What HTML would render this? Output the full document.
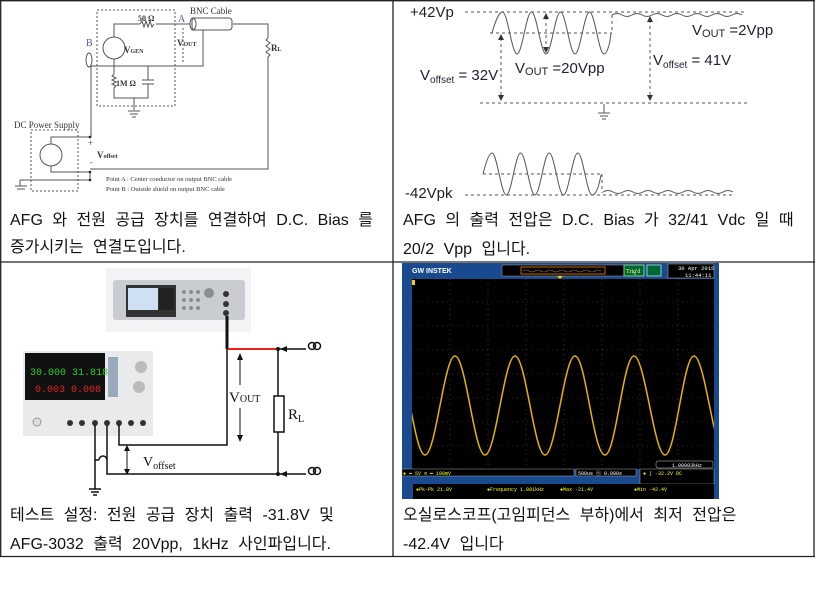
<!DOCTYPE html>
<html><head><meta charset="utf-8"><style>
html,body{margin:0;padding:0;background:#fff;width:822px;height:589px;overflow:hidden}
.cap{position:absolute;font-family:"Liberation Sans","Noto Sans CJK KR",sans-serif;font-size:16px;color:#111;white-space:nowrap;word-spacing:5px}
svg{position:absolute;left:0;top:0}
</style></head><body>
<svg width="822" height="589" viewBox="0 0 822 589" font-family="Liberation Serif, serif">
<g stroke="#222" stroke-width="1.3" fill="none">
<line x1="0" y1="0.7" x2="815" y2="0.7"/>
<line x1="0.7" y1="0" x2="0.7" y2="557"/>
<line x1="393" y1="0" x2="393" y2="557"/>
<line x1="814" y1="0" x2="814" y2="557"/>
<line x1="0" y1="262" x2="815" y2="262"/>
<line x1="0" y1="556.5" x2="815" y2="556.5"/>
</g>

<g stroke="#555" stroke-width="1" fill="none">
<rect x="97" y="10" width="78" height="96" stroke-dasharray="2,2"/>
<rect x="31" y="130" width="47" height="61" stroke-dasharray="2,2"/>
<polyline points="114,37 114,24 140,24"/>
<path d="M140,24 l2,-3 l2,6 l2,-6 l2,6 l2,-6 l2,6 l2,-3"/>
<polyline points="156,24 190,24"/>
<rect x="192" y="18" width="40" height="12" rx="3"/>
<ellipse cx="193" cy="24" rx="3" ry="6"/>
<polyline points="233,24 268,24 268,38"/>
<path d="M268,38 l-2,2 l4,3 l-4,3 l4,3 l-4,3 l4,3 l-2,2"/>
<polyline points="268,57 268,169 90,169"/>
<circle cx="114" cy="48" r="11"/>
<polyline points="114,59 114,66"/>
<polyline points="90,66 203,66 203,30"/>
<polyline points="114,66 114,74"/>
<path d="M114,74 l-2,2 l4,2 l-4,2 l4,2 l-4,2 l4,2 l-2,2"/>
<polyline points="114,88 114,98 148,98 148,84"/>
<polyline points="148,66 148,80"/>
<line x1="142" y1="80" x2="154" y2="80"/><line x1="142" y1="84" x2="154" y2="84"/>
<polyline points="134,98 134,110"/>
<line x1="128" y1="111" x2="140" y2="111"/><line x1="130" y1="114" x2="138" y2="114"/><line x1="132" y1="117" x2="136" y2="117"/>
<ellipse cx="89" cy="60" rx="3" ry="7"/>
<polyline points="91,66 91,137 51,137 51,144"/>
<circle cx="51" cy="155" r="11"/>
<polyline points="51,166 51,172 90,172"/>
<polyline points="90,172 90,180 20,180"/>
<line x1="15" y1="186" x2="27" y2="186"/><line x1="17" y1="189" x2="25" y2="189"/>
<line x1="20" y1="180" x2="20" y2="186"/>
<line x1="183" y1="28" x2="183" y2="64" stroke-dasharray="2,2"/>
</g>
<g fill="#333" font-size="8">
<text x="138" y="21" font-weight="bold">50 Ω</text>
<text x="178" y="22" fill="#55b" font-size="10">A</text>
<text x="190" y="14" font-size="9">BNC Cable</text>
<text x="86" y="46" fill="#55b" font-size="10">B</text>
<text x="124" y="53" font-weight="bold" font-size="9">V<tspan font-size="6">GEN</tspan></text>
<text x="177" y="46" font-weight="bold" font-size="9">V<tspan font-size="6">OUT</tspan></text>
<text x="271" y="51" font-weight="bold" font-size="9">R<tspan font-size="6">L</tspan></text>
<text x="116" y="86" font-weight="bold">1M Ω</text>
<text x="14" y="128" font-size="9">DC Power Supply</text>
<text x="88" y="146" font-size="9">+</text>
<text x="97" y="158" font-weight="bold" font-size="9">V<tspan font-size="6">offset</tspan></text>
<text x="90" y="165" font-size="8">-</text>
<text x="106" y="181" font-size="6.5">Point A : Center conductor on output BNC cable</text>
<text x="106" y="191" font-size="6.5">Point B : Outside shield on output BNC cable</text>
</g>
<g fill="#222"><circle cx="90" cy="137" r="1.3"/><circle cx="90" cy="172" r="1.3"/><circle cx="90" cy="180" r="1.3"/></g>

<g stroke="#555" stroke-width="1" fill="none" stroke-dasharray="3,3">
<line x1="465" y1="12" x2="745" y2="12"/>
<line x1="490" y1="33" x2="612" y2="33"/>
<line x1="612" y1="15" x2="612" y2="33"/>
<line x1="480" y1="103" x2="748" y2="103"/>
<line x1="465" y1="195" x2="735" y2="195"/>
<line x1="483" y1="174" x2="602" y2="174"/>
<line x1="602" y1="174" x2="602" y2="193"/>
<line x1="501" y1="38" x2="501" y2="97"/>
<line x1="650" y1="20" x2="650" y2="97"/>
<line x1="546" y1="17" x2="546" y2="49"/>
</g>
<g stroke="#555" stroke-width="1" fill="none">
<path d="M492,33 C495,22 499,12 502.5,12 C507.7,12 511.8,54 517,54 C522.2,54 526.3,12 531.5,12 C536.7,12 540.8,54 546,54 C551.2,54 555.3,12 560.5,12 C565.7,12 569.8,54 575,54 C580.2,54 584.3,12 589.5,12 C594.7,12 598.8,54 604,54 C607,54 610,44 611,33"/>
<path d="M483,174 C486,162 489,153 492,153 C497,153 501.2,195 506.3,195 C511.4,195 515.5,153 520.6,153 C525.7,153 529.8,195 534.9,195 C540,195 544.1,153 549.2,153 C554.3,153 558.4,195 563.5,195 C568.6,195 572.7,153 577.8,153 C582.9,153 587,195 592.1,195 C596,195 599,186 601,175"/>
<path d="M612,15 q5,-3 10,0 t10,0 t10,0 t10,0 t10,0 t10,0 t10,0 t10,0 t10,0 t10,0 t10,0 t10,0 t10,0"/>
<path d="M603,192 q5,-3 10,0 t10,0 t10,0 t10,0 t10,0 t10,0 t10,0 t10,0 t10,0 t10,0 t10,0 t10,0 t10,0"/>
<line x1="604" y1="104" x2="604" y2="113"/>
<line x1="598" y1="113" x2="610" y2="113"/><line x1="600" y1="116" x2="608" y2="116"/><line x1="602" y1="119" x2="606" y2="119"/>
</g>
<g fill="#333">
<path d="M501,34 l-3,6 h6z"/><path d="M501,101 l-3,-6 h6z"/>
<path d="M650,16 l-3,6 h6z"/><path d="M650,101 l-3,-6 h6z"/>
<path d="M546,13 l-3,6 h6z"/><path d="M546,53 l-3,-6 h6z"/>
</g>
<g fill="#222" font-family="Liberation Sans, sans-serif" font-size="15">
<text x="410" y="17">+42Vp</text>
<text x="405" y="198">-42Vpk</text>
<text x="420" y="80" fill="#223">V<tspan font-size="10" dy="3">offset</tspan><tspan dy="-3"> = 32V</tspan></text>
<text x="515" y="73" fill="#223">V<tspan font-size="11" dy="2">OUT</tspan><tspan dy="-2"> =20Vpp</tspan></text>
<text x="692" y="35" fill="#223">V<tspan font-size="11" dy="2">OUT</tspan><tspan dy="-2"> =2Vpp</tspan></text>
<text x="653" y="65" fill="#223">V<tspan font-size="10" dy="3">offset</tspan><tspan dy="-3"> = 41V</tspan></text>
</g>

<rect x="106" y="268" width="145" height="64" fill="#f2f3f5"/>
<rect x="113" y="280" width="132" height="40" rx="3" fill="#c9ccd1"/>
<rect x="126" y="285" width="50" height="32" fill="#333"/>
<rect x="128" y="288" width="30" height="22" fill="#cfe0f4"/>
<rect x="159" y="288" width="15" height="22" fill="#222"/>
<g fill="#8a8d92"><circle cx="184" cy="292" r="2"/><circle cx="191" cy="292" r="2"/><circle cx="198" cy="292" r="2"/><circle cx="184" cy="300" r="2"/><circle cx="191" cy="300" r="2"/><circle cx="198" cy="300" r="2"/><circle cx="184" cy="308" r="2"/><circle cx="191" cy="308" r="2"/><circle cx="198" cy="308" r="2"/><circle cx="209" cy="293" r="5"/></g>
<g fill="#333"><circle cx="226" cy="294" r="3"/><circle cx="226" cy="304" r="3"/><circle cx="226" cy="313" r="3"/></g>
<rect x="23" y="351" width="130" height="85" fill="#e9eaec"/>
<rect x="25" y="353" width="80" height="47" fill="#111"/>
<text x="30" y="375" fill="#3c3" font-size="10" font-family="Liberation Mono, monospace">30.000 31.818</text>
<text x="35" y="392" fill="#d22" font-size="10" font-family="Liberation Mono, monospace">0.003 0.008</text>
<rect x="108" y="357" width="10" height="40" fill="#9ab"/>
<circle cx="141" cy="367" r="6" fill="#bbb"/><circle cx="139" cy="387" r="6" fill="#bbb"/>
<circle cx="37" cy="422" r="4" fill="#ddd" stroke="#999"/>
<g fill="#333"><circle cx="70" cy="423" r="3"/><circle cx="82" cy="423" r="3"/><circle cx="95" cy="423" r="3"/><circle cx="107" cy="423" r="3"/><circle cx="119" cy="423" r="3"/><circle cx="131" cy="423" r="3"/><circle cx="143" cy="423" r="3"/></g>
<g stroke="#111" stroke-width="1.5" fill="none">
<line x1="227" y1="316" x2="227" y2="349" stroke-width="3"/>
<polyline points="227,349 227,445 119,445 119,425"/>
<polyline points="278,349 278,474 107,474 107,460"/>
<path d="M107,460 a4,4 0 0 0 -8,0"/>
<polyline points="99,460 95,460 95,425"/>
<path d="M107,425 L107,460"/>
<line x1="95" y1="460" x2="95" y2="489"/>
<line x1="89" y1="489" x2="101" y2="489"/><line x1="91" y1="492" x2="99" y2="492"/><line x1="93" y1="495" x2="97" y2="495"/>
<rect x="274" y="396" width="10" height="36" fill="#fff"/>
<line x1="280" y1="349" x2="306" y2="349"/><line x1="280" y1="474" x2="306" y2="474"/>
<circle cx="312" cy="346" r="3.5"/><circle cx="317" cy="346" r="3.5"/>
<circle cx="312" cy="471" r="3.5"/><circle cx="317" cy="471" r="3.5"/>
<line x1="240" y1="357" x2="240" y2="385" stroke-width="1"/>
<line x1="240" y1="408" x2="240" y2="438" stroke-width="1"/>
<line x1="127" y1="448" x2="127" y2="472" stroke-width="1"/>
</g>
<line x1="228" y1="349" x2="278" y2="349" stroke="#e21" stroke-width="2"/>
<g fill="#111">
<path d="M240,353 l-3,7 h6z"/><path d="M240,442 l-3,-7 h6z"/>
<path d="M127,445 l-3,6 h6z"/><path d="M127,475 l-3,-6 h6z"/>
<path d="M280,349 l7,-3 v6z"/><path d="M280,474 l7,-3 v6z"/>
<circle cx="278" cy="349" r="2"/><circle cx="278" cy="474" r="2"/>
</g>
<text x="229" y="402" font-size="15" fill="#111">V<tspan font-size="10">OUT</tspan></text>
<text x="288" y="419" font-size="15" fill="#111">R<tspan font-size="10" dy="3">L</tspan></text>
<text x="143" y="466" font-size="14" fill="#111">V<tspan font-size="10" dy="3">offset</tspan></text>

<rect x="402" y="263" width="317" height="236" fill="#1a4a8e"/>
<rect x="412" y="279" width="302" height="190" fill="#000"/>
<text x="412" y="273" fill="#fff" font-size="7" font-family="Liberation Sans, sans-serif" font-weight="bold">GW INSTEK</text>
<rect x="502" y="265" width="122" height="11" fill="#000" stroke="#aaa" stroke-width="0.5"/>
<rect x="521" y="267" width="84" height="7" fill="none" stroke="#c60" stroke-width="1"/>
<path d="M523,271 q3,-2 6,0 t6,0 t6,0 t6,0 t6,0 t6,0 t6,0 t6,0 t6,0 t6,0 t6,0 t6,0 t6,0" stroke="#a84" fill="none" stroke-width="0.6"/>
<rect x="624" y="265" width="20" height="11" fill="#063" stroke="#8c8"/>
<text x="626" y="273" fill="#ff8" font-size="6">Trig'd</text>
<rect x="647" y="265" width="14" height="11" fill="#063" stroke="#8cc"/>
<rect x="668" y="264" width="46" height="14" fill="#000" stroke="#aaa" stroke-width="0.5"/>
<text x="678" y="270" fill="#fff" font-size="5.5" font-family="Liberation Mono, monospace">30 Apr 2015</text>
<text x="685" y="277" fill="#fff" font-size="5.5" font-family="Liberation Mono, monospace">11:44:11</text>
<g stroke="#555" stroke-width="0.6" stroke-dasharray="1,4">
<line x1="412" y1="302" x2="714" y2="302"/><line x1="412" y1="326" x2="714" y2="326"/><line x1="412" y1="350" x2="714" y2="350"/><line x1="412" y1="374" x2="714" y2="374"/><line x1="412" y1="398" x2="714" y2="398"/><line x1="412" y1="422" x2="714" y2="422"/><line x1="412" y1="446" x2="714" y2="446"/>
<line x1="450" y1="279" x2="450" y2="469"/><line x1="488" y1="279" x2="488" y2="469"/><line x1="526" y1="279" x2="526" y2="469"/><line x1="564" y1="279" x2="564" y2="469"/><line x1="602" y1="279" x2="602" y2="469"/><line x1="640" y1="279" x2="640" y2="469"/><line x1="678" y1="279" x2="678" y2="469"/>
</g>
<clipPath id="sc"><rect x="412" y="279" width="302" height="190"/></clipPath>
<path clip-path="url(#sc)" stroke="#e8b400" stroke-width="1.5" fill="none" d="M395,356 C405.8,356 414.2,455 425,455 C435.8,455 444.2,356 455,356 C465.8,356 474.2,455 485,455 C495.8,455 504.2,356 515,356 C525.8,356 534.2,455 545,455 C555.8,455 564.2,356 575,356 C585.8,356 593.2,455 605,455 C615.8,455 623.2,356 634,356 C644.8,356 654.2,455 665,455 C675.8,455 683.2,356 694,356 C704.8,356 714.2,455 725,455"/>
<path d="M560,279 l-3,-3 h6z" fill="#fc0"/>
<rect x="412" y="280" width="3" height="5" fill="#fc0"/>
<rect x="656" y="461" width="57" height="7" rx="2" fill="#000" stroke="#ccc" stroke-width="0.5"/>
<text x="672" y="467" fill="#fff" font-size="5" font-family="Liberation Mono, monospace">1.00003kHz</text>
<rect x="402" y="469" width="172" height="7" fill="#000" stroke="#aaa" stroke-width="0.5"/>
<rect x="576" y="469" width="60" height="7" fill="#000" stroke="#aaa" stroke-width="0.5"/>
<rect x="640" y="469" width="74" height="15" fill="#000" stroke="#aaa" stroke-width="0.5"/>
<rect x="413" y="484" width="301" height="15" fill="#000"/>
<g fill="#ff0" font-size="5" font-family="Liberation Mono, monospace">
<text x="403" y="475">●  ━  5V     ≋ ━ 100mV</text>
<text x="578" y="475" fill="#fff">500us  ⓗ  0.000s</text>
<text x="643" y="475">●  ∫  -32.2V   DC</text>
<text x="416" y="491">●Pk-Pk 21.8V</text>
<text x="487" y="491">●Frequency 1.001kHz</text>
<text x="560" y="491">●Max -21.4V</text>
<text x="634" y="491">●Min -42.4V</text>
</g>
</svg>

<div class="cap" style="left:10px;top:206px">AFG 와 전원 공급 장치를 연결하여 D.C. Bias 를</div>
<div class="cap" style="left:10px;top:233px">증가시키는 연결도입니다.</div>
<div class="cap" style="left:403px;top:206px">AFG 의 출력 전압은 D.C. Bias 가 32/41 Vdc 일 때</div>
<div class="cap" style="left:403px;top:235px">20/2 Vpp 입니다.</div>
<div class="cap" style="left:10px;top:501px">테스트 설정: 전원 공급 장치 출력 -31.8V 및</div>
<div class="cap" style="left:10px;top:530px">AFG-3032 출력 20Vpp, 1kHz 사인파입니다.</div>
<div class="cap" style="left:403px;top:501px">오실로스코프(고임피던스 부하)에서 최저 전압은</div>
<div class="cap" style="left:403px;top:530px">-42.4V 입니다</div>
</body></html>
